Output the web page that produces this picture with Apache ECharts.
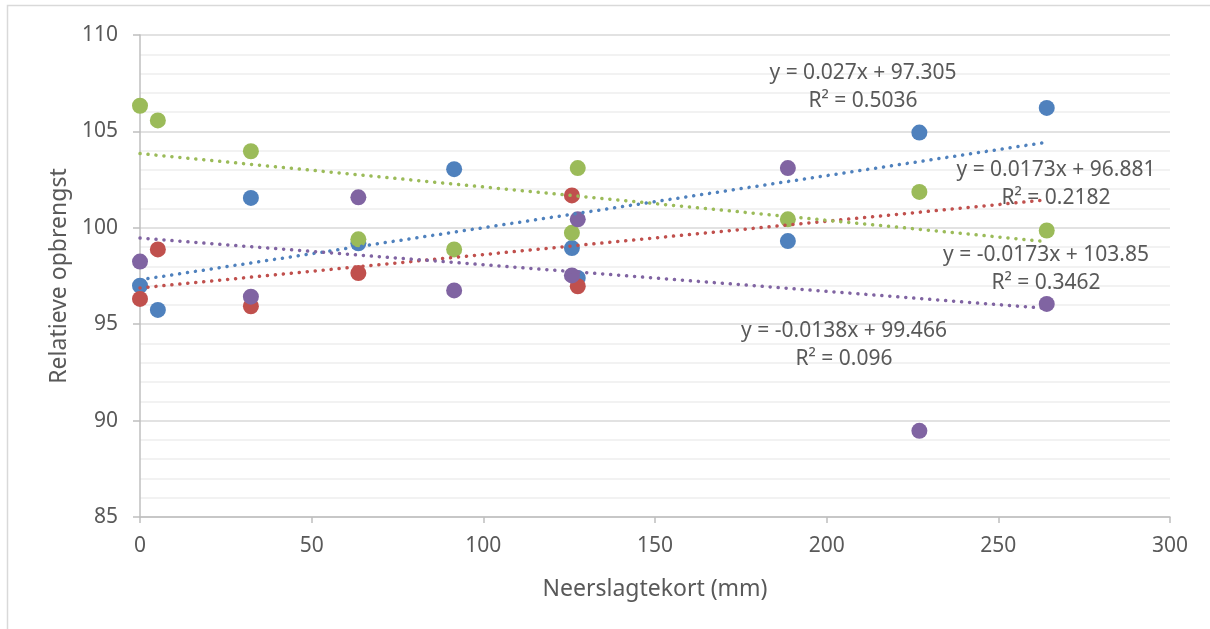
<!DOCTYPE html>
<html>
<head>
<meta charset="utf-8">
<script src="https://cdn.jsdelivr.net/npm/echarts@6/dist/echarts.min.js"></script>
<style>
  html, body { margin: 0; padding: 0; background: #fff; }
  #chart { width: 1210px; height: 629px; }
</style>
</head>
<body>
<div id="chart"></div>
<script>
// gedeelde x-waarden (neerslagtekort, mm)
const xValues = [0, 5.2, 32.3, 63.6, 91.5, 125.8, 127.5, 188.7, 227, 264.1]
// relatieve opbrengst per reeks (null = niet zichtbaar)
const blueValues = [97.0, 95.74, 101.55, 99.2, 103.04, 98.95, 97.4, 99.31, 104.94, 106.22]
const redValues = [96.31, 98.88, 95.93, 97.65, null, 101.68, 96.97, null, null, null]
const greenValues = [106.33, 105.57, 103.97, 99.4, 98.88, 99.74, 103.1, 100.44, 101.86, 99.86]
const purpleValues = [98.25, null, 96.43, 101.58, 96.75, 97.53, 100.44, 103.1, 89.47, 96.05]
const trendX = [0, 264.1]
const blueTrend = [97.305, 104.44]
const redTrend = [96.881, 101.45]
const greenTrend = [103.85, 99.28]
const purpleTrend = [99.466, 95.82]
// vergelijkingen
const blueEq = ['y = 0.027x + 97.305', 'R² = 0.5036']
const redEq = ['y = 0.0173x + 96.881', 'R² = 0.2182']
const greenEq = ['y = -0.0173x + 103.85', 'R² = 0.3462']
const purpleEq = ['y = -0.0138x + 99.466', 'R² = 0.096']
// as-instellingen
const xTicks = [0, 300, 50]
const yTicks = [85, 110, 5]

const colors = ['#4F81BD', '#C0504D', '#9BBB59', '#8064A2']
const font = '"Noto Sans", "Open Sans", sans-serif'
const textColor = '#595959'

function pairs (xs, ys) {
  const out = []
  for (let i = 0; i < xs.length; i++) {
    if (ys[i] !== null) out.push([xs[i], ys[i]])
  }
  return out
}

function scatter (name, ys, color) {
  return {
    name: name,
    type: 'scatter',
    data: pairs(xValues, ys),
    symbolSize: 16,
    itemStyle: { color: color, opacity: 1 },
    z: 2
  }
}

function trend (name, ys, color) {
  return {
    name: name,
    type: 'line',
    data: pairs(trendX, ys),
    symbol: 'none',
    silent: true,
    lineStyle: { color: color, width: 3.5, type: [0.1, 7.9], cap: 'round' },
    z: 3
  }
}

function eqLabel (lines, x, y) {
  return {
    type: 'text',
    x: x,
    y: y,
    z: 10,
    style: {
      text: lines.join('\n'),
      align: 'center',
      verticalAlign: 'middle',
      lineHeight: 28,
      font: '21px ' + font,
      fill: textColor
    }
  }
}

var myChart = echarts.init(document.getElementById('chart'))
var option = {
  animation: false,
  backgroundColor: '#fff',
  textStyle: { fontFamily: font },
  grid: { left: 140, right: 40, top: 35, bottom: 112 },
  xAxis: {
    type: 'value',
    min: xTicks[0],
    max: xTicks[1],
    interval: xTicks[2],
    name: 'Neerslagtekort (mm)',
    nameLocation: 'middle',
    nameGap: 61,
    nameTextStyle: { color: textColor, fontSize: 23, fontFamily: font },
    axisLine: { lineStyle: { color: '#BFBFBF', width: 1.5 } },
    axisTick: { show: true, length: 6, lineStyle: { color: '#BFBFBF', width: 1.5 } },
    axisLabel: { color: textColor, fontSize: 21, margin: 19, fontFamily: font },
    splitLine: { show: false }
  },
  yAxis: {
    type: 'value',
    min: yTicks[0],
    max: yTicks[1],
    interval: yTicks[2],
    name: 'Relatieve opbrengst',
    nameLocation: 'middle',
    nameGap: 68,
    nameTextStyle: { color: textColor, fontSize: 23, fontFamily: font },
    axisLine: { show: true, lineStyle: { color: '#BFBFBF', width: 1.5 } },
    axisTick: { show: true, length: 7, lineStyle: { color: '#BFBFBF', width: 1.5 } },
    axisLabel: { color: textColor, fontSize: 21, margin: 22, fontFamily: font },
    splitLine: { show: true, lineStyle: { color: '#D9D9D9', width: 1.5 } },
    minorTick: { show: false, splitNumber: 5 },
    minorSplitLine: { show: true, lineStyle: { color: '#EEEEEE', width: 1.5 } }
  },
  series: [
    scatter('Blauw', blueValues, colors[0]),
    scatter('Rood', redValues, colors[1]),
    scatter('Groen', greenValues, colors[2]),
    scatter('Paars', purpleValues, colors[3]),
    trend('Trend blauw', blueTrend, colors[0]),
    trend('Trend rood', redTrend, colors[1]),
    trend('Trend groen', greenTrend, colors[2]),
    trend('Trend paars', purpleTrend, colors[3])
  ],
  graphic: [
    {
      type: 'rect',
      shape: { x: 7.5, y: 5.5, width: 1220, height: 640 },
      style: { fill: 'none', stroke: '#D9D9D9', lineWidth: 1.5 },
      silent: true
    },
    eqLabel(blueEq, 863, 87.5),
    eqLabel(redEq, 1056, 184),
    eqLabel(greenEq, 1046, 269),
    eqLabel(purpleEq, 844, 345.5)
  ]
}
myChart.setOption(option)
</script>
</body>
</html>
